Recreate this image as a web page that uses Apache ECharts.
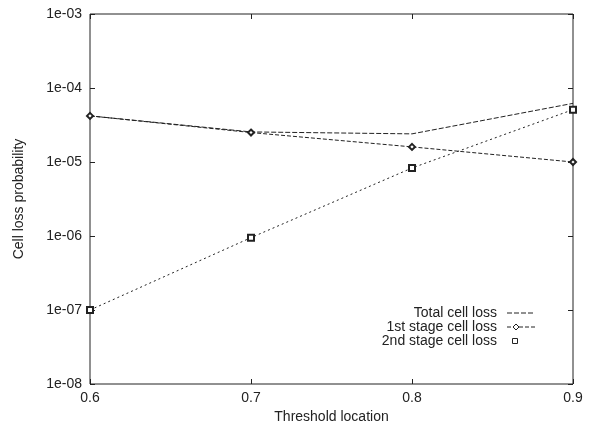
<!DOCTYPE html>
<html>
<head>
<meta charset="utf-8">
<script src="https://cdn.jsdelivr.net/npm/echarts@6/dist/echarts.min.js"></script>
<style>
  html, body { margin: 0; padding: 0; background: #fff; }
  #chart { width: 589px; height: 429px; }
</style>
</head>
<body>
<div id="chart"></div>
<script>
// threshold locations (x)
const thresholds = [0.6, 0.7, 0.8, 0.9];
// cell loss probabilities
const totalLoss = [4.2e-5, 2.55e-5, 2.4e-5, 6.2e-5];
const firstStageLoss = [4.2e-5, 2.5e-5, 1.6e-5, 1.0e-5];
const secondStageLoss = [1.0e-7, 9.5e-7, 8.3e-6, 5.1e-5];
const seriesNames = ['Total cell loss', '1st stage cell loss', '2nd stage cell loss'];

const font = 'Liberation Sans, Arial, sans-serif';

// 1e-05 style labels
const fmtExp = (v) => {
    const e = Math.round(Math.log10(v));
    const s = String(Math.abs(e)).padStart(2, '0');
    return '1e' + (e < 0 ? '-' : '+') + s;
};

const pairs = (ys) => thresholds.map((x, i) => [x, ys[i]]);

const myChart = echarts.init(document.getElementById('chart'));

const xBase = {
    type: 'value', min: 0.6, max: 0.9, interval: 0.1,
    axisLine: { show: false },
    axisTick: { show: true, inside: true, length: 5, lineStyle: { color: '#222' } },
    splitLine: { show: false }
};
const yBase = {
    type: 'log', logBase: 10, min: 1e-8, max: 1e-3,
    axisLine: { show: false },
    axisTick: { show: true, inside: true, length: 5, lineStyle: { color: '#222' } },
    minorTick: { show: false },
    splitLine: { show: false }
};

// legend drawn gnuplot-style: text right aligned, sample on the right
const legendRows = [
    { y: 313, dash: [5, 2], symbol: null },
    { y: 327, dash: [4, 2], symbol: 'diamond' },
    { y: 341, dash: null, symbol: 'rect' }
];
const legendGraphics = [];
legendRows.forEach((r, i) => {
    legendGraphics.push({
        type: 'text', x: 497, y: r.y,
        style: { text: seriesNames[i], font: '14px ' + font, fill: '#222', textAlign: 'right', textVerticalAlign: 'middle' }
    });
    if (r.dash) {
        legendGraphics.push({
            type: 'line', shape: { x1: 507, y1: r.y, x2: 535, y2: r.y },
            style: { stroke: '#222', lineWidth: 1, lineDash: r.dash }
        });
    }
    if (r.symbol === 'diamond') {
        legendGraphics.push({
            type: 'polygon', shape: { points: [[516, r.y - 3], [519, r.y], [516, r.y + 3], [513, r.y]] },
            style: { fill: '#fff', stroke: '#222', lineWidth: 1 }
        });
    } else if (r.symbol === 'rect') {
        legendGraphics.push({
            type: 'rect', shape: { x: 512.5, y: r.y - 2.5, width: 5, height: 5 },
            style: { fill: '#fff', stroke: '#222', lineWidth: 1 }
        });
    }
});

const option = {
    animation: false,
    backgroundColor: '#fff',
    grid: {
        left: 90, right: 16, top: 14, bottom: 42,
        show: true, borderColor: '#222', borderWidth: 1, backgroundColor: 'transparent'
    },
    xAxis: [
        Object.assign({}, xBase, {
            position: 'bottom',
            name: 'Threshold location', nameLocation: 'middle', nameGap: 26,
            nameTextStyle: { fontFamily: font, fontSize: 14, color: '#222' },
            axisLabel: { fontFamily: font, fontSize: 14, color: '#222', margin: 7, formatter: (v) => v.toFixed(1) }
        }),
        Object.assign({}, xBase, { position: 'top', axisLabel: { show: false } })
    ],
    yAxis: [
        Object.assign({}, yBase, {
            position: 'left',
            name: 'Cell loss probability', nameLocation: 'middle', nameGap: 64,
            nameTextStyle: { fontFamily: font, fontSize: 14, color: '#222' },
            axisLabel: { fontFamily: font, fontSize: 14, color: '#222', margin: 8, formatter: fmtExp }
        }),
        Object.assign({}, yBase, { position: 'right', axisLabel: { show: false } })
    ],
    series: [
        {
            name: seriesNames[0], type: 'line', data: pairs(totalLoss),
            showSymbol: false, symbol: 'none',
            lineStyle: { color: '#222', width: 1, type: [5, 2] }
        },
        {
            name: seriesNames[1], type: 'line', data: pairs(firstStageLoss),
            symbol: 'emptyDiamond', symbolSize: 6,
            itemStyle: { color: '#222', borderWidth: 1 },
            lineStyle: { color: '#222', width: 1, type: [4, 2] }
        },
        {
            name: seriesNames[2], type: 'line', data: pairs(secondStageLoss),
            symbol: 'emptyRect', symbolSize: 6,
            itemStyle: { color: '#222', borderWidth: 1 },
            lineStyle: { color: '#222', width: 1, type: [2, 3] }
        }
    ],
    graphic: legendGraphics
};

myChart.setOption(option);
</script>
</body>
</html>
